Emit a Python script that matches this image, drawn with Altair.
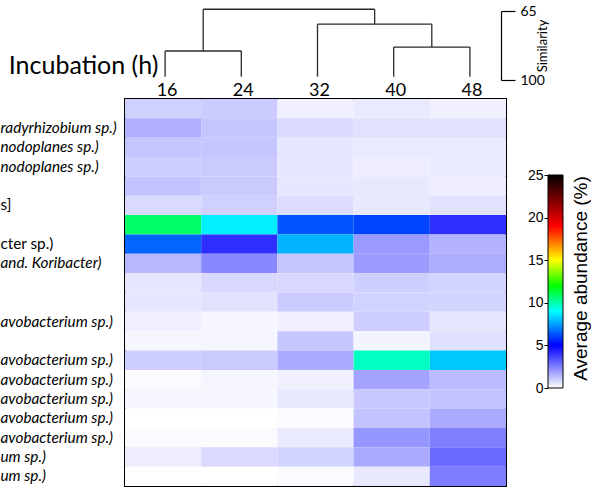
import json
import altair as alt
import pandas as pd

# Incubation times (h) -> heatmap columns
times = [16, 24, 32, 40, 48]

# Row labels, top to bottom
row_labels = [
    "", "radyrhizobium sp.)", "nodoplanes sp.)", "nodoplanes sp.)", "", "s]", "",
    "cter sp.)", "and. Koribacter)", "", "", "avobacterium sp.)", "",
    "avobacterium sp.)", "avobacterium sp.)", "avobacterium sp.)", "avobacterium sp.)",
    "avobacterium sp.)", "um sp.)", "um sp.)",
]
upright_rows = [6, 8]

# Average abundance (%) per row, columns follow `times`
abundance = [
    [0.92, 1.02, 0.29, 0.41, 0.29],
    [1.55, 1.12, 0.73, 0.57, 0.57],
    [1.12, 1.12, 0.49, 0.41, 0.41],
    [0.94, 1.04, 0.49, 0.35, 0.41],
    [1.18, 1.04, 0.49, 0.45, 0.35],
    [0.73, 0.92, 0.69, 0.45, 0.57],
    [10.8, 8.76, 6.33, 6.07, 4.10],
    [6.60, 4.10, 7.82, 2.00, 1.49],
    [1.39, 2.33, 1.12, 1.94, 1.61],
    [0.49, 0.76, 0.76, 0.96, 0.86],
    [0.49, 0.57, 1.04, 0.86, 0.86],
    [0.31, 0.18, 0.29, 0.94, 0.49],
    [0.18, 0.18, 1.12, 0.22, 0.61],
    [0.96, 1.04, 1.67, 9.74, 8.14],
    [0.10, 0.18, 0.29, 1.80, 1.33],
    [0.18, 0.18, 0.45, 1.08, 1.18],
    [0.00, 0.00, 0.10, 1.18, 1.67],
    [0.10, 0.10, 0.41, 2.06, 2.49],
    [0.35, 0.73, 0.86, 1.67, 2.92],
    [0.00, 0.00, 0.10, 0.45, 2.55],
]

# Rainbow colour ramp (value -> colour)
stop_values = [0, 5, 9, 12, 15, 19, 25]
stop_colors = ["#ffffff", "#0000ff", "#00ffff", "#00ff00", "#ffff00", "#ff0000", "#000000"]

# Cluster tree of the time points: (node a, node b, similarity of the join);
# nodes 0-4 are the time points, merged nodes are numbered from 5 on
leaf_similarity = 98.3
merges = [(0, 1, 85.3), (3, 4, 83.3), (2, 6, 71.7), (5, 7, 64.1)]

# ---- layout ----
W, H = 381, 387
PAD = {"left": 125, "top": 99, "right": 85, "bottom": 2}
CALIBRI_LIKE = "Lato"
ARIAL_LIKE = "Liberation Sans"

heat_df = pd.DataFrame(
    [
        {"row": r + 1, "time": t, "value": abundance[r][c]}
        for r in range(len(abundance))
        for c, t in enumerate(times)
    ]
)

node_x = {i: i + 0.5 for i in range(len(times))}
node_h = {i: leaf_similarity for i in range(len(times))}
segs = []
for k, (a, b, h) in enumerate(merges):
    nid = len(times) + k
    for c in (a, b):
        segs.append({"x": node_x[c], "x2": node_x[c], "y": node_h[c], "y2": h})
    segs.append({"x": node_x[a], "x2": node_x[b], "y": h, "y2": h})
    node_x[nid] = (node_x[a] + node_x[b]) / 2
    node_h[nid] = h
dendro_df = pd.DataFrame(segs)

color_scale = alt.Scale(domain=stop_values, range=stop_colors, interpolate="rgb")

upright_test = " || ".join(f"datum.value == {r}" for r in upright_rows)

heat = alt.Chart(heat_df).mark_rect().encode(
    x=alt.X(
        "time:O",
        scale=alt.Scale(paddingInner=0, paddingOuter=0),
        axis=alt.Axis(
            orient="top", labelAngle=0, domain=False, ticks=False, tickSize=0,
            labelPadding=0, labelOffset=4, labelFont=CALIBRI_LIKE, labelFontSize=18,
            labelColor="black", title="Incubation (h)", titleFont=CALIBRI_LIKE,
            titleFontSize=25, titleFontWeight="normal", titleColor="black",
            titleX=33, titleY=-26, titleAlign="right", titleBaseline="alphabetic",
        ),
    ),
    y=alt.Y(
        "row:O",
        scale=alt.Scale(paddingInner=0, paddingOuter=0),
        axis=alt.Axis(
            orient="left", domain=False, ticks=False, tickSize=0, labelPadding=125,
            labelAlign="left", labelLimit=400,
            labelExpr=f"{json.dumps(row_labels)}[datum.value - 1]",
            labelFont=CALIBRI_LIKE, labelFontSize=15.3, labelColor="black",
            labelFontStyle={"condition": {"test": upright_test, "value": "normal"}, "value": "italic"},
            title=None,
        ),
    ),
    color=alt.Color("value:Q", scale=color_scale, legend=None),
)

dendro = alt.Chart(dendro_df).mark_rule(color="#2a2a2a", strokeWidth=1.3).encode(
    x=alt.X("x:Q", scale=alt.Scale(domain=[0, len(times)], range=[2, W + 2]), axis=None),
    x2="x2:Q",
    y=alt.Y(
        "y:Q",
        scale=alt.Scale(domain=[65, 100], range=[11 - PAD["top"], 80 - PAD["top"]], zero=False, nice=False),
        axis=alt.Axis(
            orient="right", offset=-5, values=[65, 100], tickSize=14, tickColor="black",
            tickWidth=1.2, domainColor="black", domainWidth=1.2, labelFont=CALIBRI_LIKE,
            labelFontSize=14, labelPadding=5, labelColor="black", grid=False,
            title="Similarity", titleAngle=270, titleFont=CALIBRI_LIKE, titleFontSize=13,
            titleFontWeight="normal", titleColor="black", titlePadding=5,
        ),
    ),
    y2="y2:Q",
)

bar_df = pd.DataFrame({"x0": [0], "x1": [1], "lo": [stop_values[0]], "hi": [stop_values[-1]]})
gradient = alt.LinearGradient(
    gradient="linear",
    stops=[alt.GradientStop(color=c, offset=v / stop_values[-1]) for v, c in zip(stop_values, stop_colors)],
    x1=0, x2=0, y1=1, y2=0,
)
cbar = alt.Chart(bar_df).mark_rect(fill=gradient, stroke="black", strokeWidth=1).encode(
    x=alt.X("x0:Q", scale=alt.Scale(domain=[0, 1], range=[423, 438]), axis=None),
    x2="x1:Q",
    y=alt.Y(
        "lo:Q",
        scale=alt.Scale(domain=[0, 25], range=[388 - PAD["top"], 175 - PAD["top"]], zero=False, nice=False),
        axis=alt.Axis(
            orient="left", offset=-423, values=[0, 5, 10, 15, 20, 25], tickSize=4,
            tickColor="black", labelPadding=1, domain=False, grid=False,
            labelFont=ARIAL_LIKE, labelFontSize=14, labelColor="black",
            title="Average abundance (%)", titleAngle=270, titleX=32, titleY=179,
            titleAlign="center", titleBaseline="middle", titleFont=ARIAL_LIKE,
            titleFontSize=19, titleFontWeight="normal", titleColor="black",
        ),
    ),
    y2="hi:Q",
)

chart = (
    alt.layer(heat, dendro, cbar)
    .resolve_scale(x="independent", y="independent", color="independent")
    .properties(width=W, height=H, padding=PAD, autosize=alt.AutoSizeParams(type="none"),
                background="white")
    .configure_view(stroke="black", strokeWidth=2)
    .configure_axis(grid=False)
)

chart.save("out.html", embed_options={"renderer": "svg", "actions": False})
